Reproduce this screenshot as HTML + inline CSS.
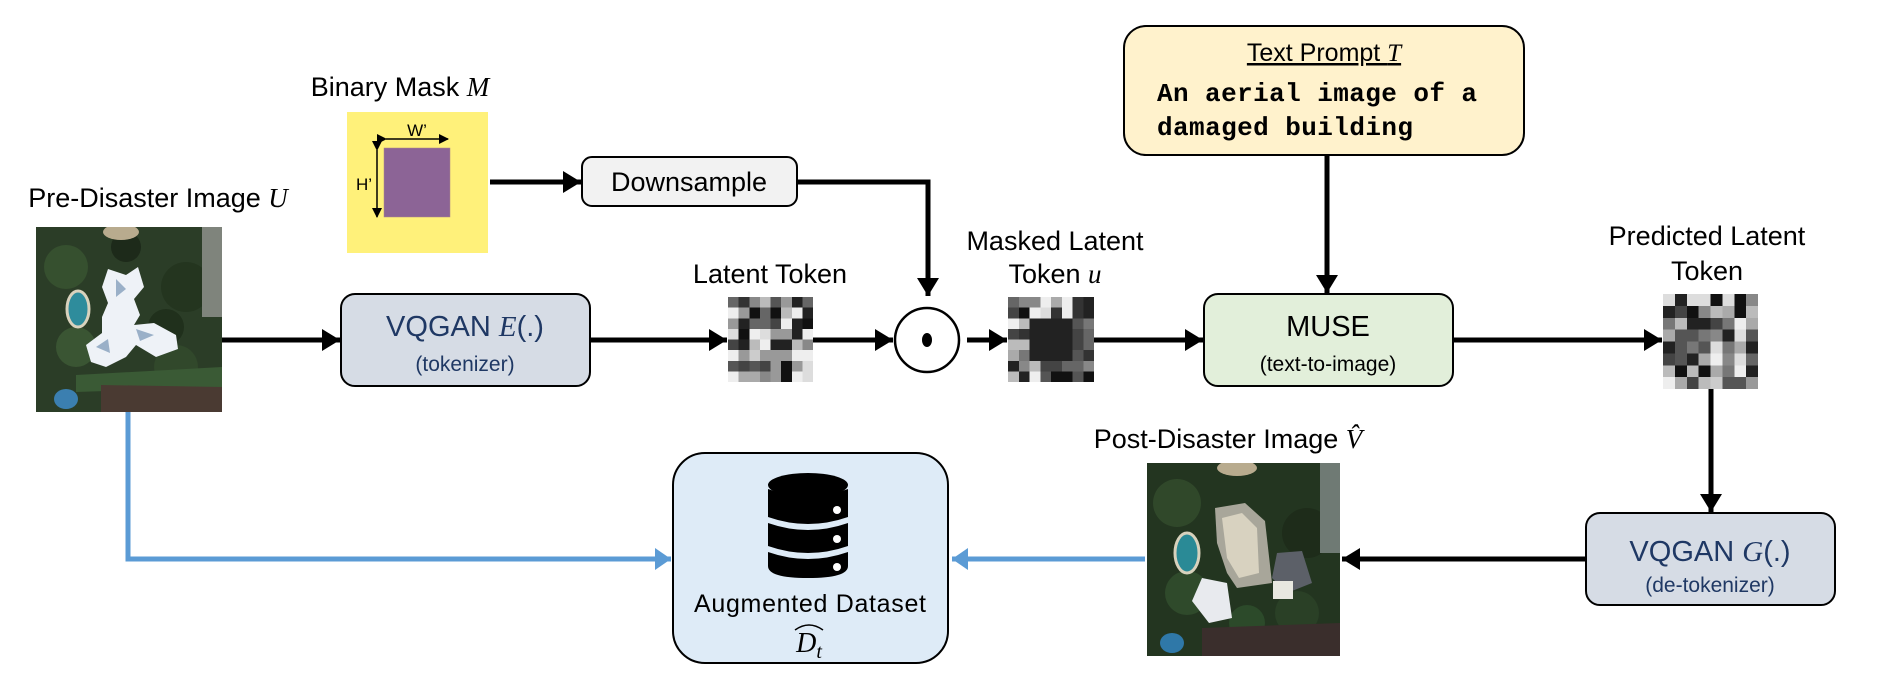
<!DOCTYPE html>
<html><head><meta charset="utf-8"><style>
html,body{margin:0;padding:0;background:#fff;}
svg{display:block;}
.lbl{font-family:"Liberation Sans Narrow","Liberation Sans",sans-serif;font-size:27px;fill:#000;}
.mi{font-family:"Liberation Serif",serif;font-style:italic;}
.box1{font-family:"Liberation Sans",sans-serif;fill:#1f3864;}
.mono{font-family:"Liberation Mono",monospace;font-weight:bold;font-size:26px;fill:#000;}
</style></head><body>
<svg width="1903" height="688" viewBox="0 0 1903 688" xmlns="http://www.w3.org/2000/svg">
<defs>
<marker id="ah" markerUnits="userSpaceOnUse" markerWidth="20" markerHeight="22" refX="18" refY="11" orient="auto"><path d="M0,0 L18,11 L0,22 Z" fill="#000"/></marker>
<marker id="bh" markerUnits="userSpaceOnUse" markerWidth="18" markerHeight="22" refX="16" refY="11" orient="auto"><path d="M0,0 L16,11 L0,22 Z" fill="#5b9bd5"/></marker>
<marker id="sh" markerUnits="userSpaceOnUse" markerWidth="10" markerHeight="10" refX="9" refY="5" orient="auto"><path d="M0,0 L10,5 L0,10 Z" fill="#000"/></marker>
</defs>

<!-- Binary mask -->
<text class="lbl" x="400" y="96" text-anchor="middle">Binary Mask <tspan class="mi">M</tspan></text>
<rect x="347" y="112" width="141" height="141" fill="#fff17a"/>
<rect x="384" y="148" width="66" height="69" fill="#8c6496" stroke="#a88" stroke-width="0.5"/>
<line x1="386" y1="139" x2="448" y2="139" stroke="#000" stroke-width="1.5" marker-start="url(#sh)" marker-end="url(#sh)"/>
<text x="417" y="136" text-anchor="middle" font-family="Liberation Sans,sans-serif" font-size="17">W’</text>
<line x1="377" y1="150" x2="377" y2="217" stroke="#000" stroke-width="1.5" marker-start="url(#sh)" marker-end="url(#sh)"/>
<text x="372" y="190" text-anchor="end" font-family="Liberation Sans,sans-serif" font-size="17">H’</text>

<!-- Downsample -->
<line x1="490" y1="182" x2="581" y2="182" stroke="#000" stroke-width="5" marker-end="url(#ah)"/>
<rect x="582" y="157" width="215" height="49" rx="10" fill="#f2f2f2" stroke="#000" stroke-width="2"/>
<text class="lbl" x="689" y="191" text-anchor="middle" font-family="Liberation Sans,sans-serif">Downsample</text>
<polyline points="797,182 928,182 928,296" fill="none" stroke="#000" stroke-width="5" marker-end="url(#ah)"/>

<!-- Pre-disaster -->
<text class="lbl" x="158" y="207" text-anchor="middle">Pre-Disaster Image <tspan class="mi">U</tspan></text>
<svg x="36" y="227" width="186" height="185" viewBox="0 0 186 185">
<rect width="186" height="185" fill="#2b3d27"/>
<circle cx="30" cy="40" r="22" fill="#36502f"/><circle cx="150" cy="60" r="25" fill="#24351f"/>
<circle cx="40" cy="120" r="20" fill="#3a5533"/><circle cx="140" cy="140" r="22" fill="#31482b"/>
<circle cx="90" cy="20" r="15" fill="#1d2a1a"/><circle cx="130" cy="100" r="18" fill="#20301c"/>
<rect x="166" y="0" width="20" height="90" fill="#7f847c"/>
<ellipse cx="85" cy="5" rx="18" ry="8" fill="#b8ab8e"/>
<path d="M40,148 L186,140 L186,160 L40,165 Z" fill="#3a5a35"/>
<path d="M65,158 L186,160 L186,185 L65,185 Z" fill="#4a3a32"/>
<ellipse cx="30" cy="172" rx="12" ry="10" fill="#3b7fb0"/>
<ellipse cx="42" cy="82" rx="11" ry="18" fill="#2e8c9c" stroke="#d8d2bd" stroke-width="3"/>
<path d="M72,42 L90,48 L102,40 L108,60 L98,72 L104,88 L98,98 L118,96 L140,108 L142,122 L120,130 L100,118 L90,130 L70,140 L55,135 L50,118 L66,106 L66,90 L72,76 L66,60 Z" fill="#eef2f7"/>
<path d="M80,52 L90,62 L80,70 Z M100,102 L118,108 L104,114 Z M60,120 L72,112 L74,126 Z" fill="#9ab0c8"/>
</svg>
<polyline points="128,412 128,559 671,559" fill="none" stroke="#5b9bd5" stroke-width="5" marker-end="url(#bh)"/>
<line x1="222" y1="340" x2="340" y2="340" stroke="#000" stroke-width="5" marker-end="url(#ah)"/>

<!-- VQGAN E -->
<rect x="341" y="294" width="249" height="92" rx="14" fill="#d6dce5" stroke="#000" stroke-width="2"/>
<text class="box1" x="465" y="336" text-anchor="middle" font-size="29">VQGAN <tspan class="mi">E</tspan>(.)</text>
<text class="box1" x="465" y="371" text-anchor="middle" font-size="21">(tokenizer)</text>
<line x1="590" y1="340" x2="727" y2="340" stroke="#000" stroke-width="5" marker-end="url(#ah)"/>

<!-- Latent token -->
<text class="lbl" x="770" y="283" text-anchor="middle">Latent Token</text>
<svg x="728" y="297" width="85" height="85" viewBox="0 0 8 8" preserveAspectRatio="none" shape-rendering="crispEdges">
<rect x="0" y="0" width="1" height="1" fill="#666"/><rect x="1" y="0" width="1" height="1" fill="#333"/><rect x="2" y="0" width="1" height="1" fill="#888"/><rect x="3" y="0" width="1" height="1" fill="#bbb"/><rect x="4" y="0" width="1" height="1" fill="#555"/><rect x="5" y="0" width="1" height="1" fill="#999"/><rect x="6" y="0" width="1" height="1" fill="#222"/><rect x="7" y="0" width="1" height="1" fill="#666"/>
<rect x="0" y="1" width="1" height="1" fill="#eee"/><rect x="1" y="1" width="1" height="1" fill="#999"/><rect x="2" y="1" width="1" height="1" fill="#111"/><rect x="3" y="1" width="1" height="1" fill="#666"/><rect x="4" y="1" width="1" height="1" fill="#111"/><rect x="5" y="1" width="1" height="1" fill="#bbb"/><rect x="6" y="1" width="1" height="1" fill="#eee"/><rect x="7" y="1" width="1" height="1" fill="#222"/>
<rect x="0" y="2" width="1" height="1" fill="#999"/><rect x="1" y="2" width="1" height="1" fill="#222"/><rect x="2" y="2" width="1" height="1" fill="#666"/><rect x="3" y="2" width="1" height="1" fill="#666"/><rect x="4" y="2" width="1" height="1" fill="#444"/><rect x="5" y="2" width="1" height="1" fill="#eee"/><rect x="6" y="2" width="1" height="1" fill="#222"/><rect x="7" y="2" width="1" height="1" fill="#111"/>
<rect x="0" y="3" width="1" height="1" fill="#ddd"/><rect x="1" y="3" width="1" height="1" fill="#111"/><rect x="2" y="3" width="1" height="1" fill="#eee"/><rect x="3" y="3" width="1" height="1" fill="#ddd"/><rect x="4" y="3" width="1" height="1" fill="#999"/><rect x="5" y="3" width="1" height="1" fill="#999"/><rect x="6" y="3" width="1" height="1" fill="#222"/><rect x="7" y="3" width="1" height="1" fill="#eee"/>
<rect x="0" y="4" width="1" height="1" fill="#444"/><rect x="1" y="4" width="1" height="1" fill="#222"/><rect x="2" y="4" width="1" height="1" fill="#bbb"/><rect x="3" y="4" width="1" height="1" fill="#eee"/><rect x="4" y="4" width="1" height="1" fill="#222"/><rect x="5" y="4" width="1" height="1" fill="#222"/><rect x="6" y="4" width="1" height="1" fill="#bbb"/><rect x="7" y="4" width="1" height="1" fill="#888"/>
<rect x="0" y="5" width="1" height="1" fill="#eee"/><rect x="1" y="5" width="1" height="1" fill="#999"/><rect x="2" y="5" width="1" height="1" fill="#ccc"/><rect x="3" y="5" width="1" height="1" fill="#999"/><rect x="4" y="5" width="1" height="1" fill="#999"/><rect x="5" y="5" width="1" height="1" fill="#999"/><rect x="6" y="5" width="1" height="1" fill="#eee"/><rect x="7" y="5" width="1" height="1" fill="#eee"/>
<rect x="0" y="6" width="1" height="1" fill="#555"/><rect x="1" y="6" width="1" height="1" fill="#444"/><rect x="2" y="6" width="1" height="1" fill="#555"/><rect x="3" y="6" width="1" height="1" fill="#444"/><rect x="4" y="6" width="1" height="1" fill="#999"/><rect x="5" y="6" width="1" height="1" fill="#111"/><rect x="6" y="6" width="1" height="1" fill="#999"/><rect x="7" y="6" width="1" height="1" fill="#ddd"/>
<rect x="0" y="7" width="1" height="1" fill="#eee"/><rect x="1" y="7" width="1" height="1" fill="#aaa"/><rect x="2" y="7" width="1" height="1" fill="#aaa"/><rect x="3" y="7" width="1" height="1" fill="#888"/><rect x="4" y="7" width="1" height="1" fill="#999"/><rect x="5" y="7" width="1" height="1" fill="#111"/><rect x="6" y="7" width="1" height="1" fill="#eee"/><rect x="7" y="7" width="1" height="1" fill="#ddd"/>
</svg>
<line x1="813" y1="340" x2="893" y2="340" stroke="#000" stroke-width="5" marker-end="url(#ah)"/>
<circle cx="927" cy="340" r="32" fill="#fff" stroke="#000" stroke-width="2.5"/>
<ellipse cx="927" cy="340" rx="5" ry="7" fill="#000"/>
<line x1="967" y1="340" x2="1007" y2="340" stroke="#000" stroke-width="5" marker-end="url(#ah)"/>

<!-- Masked token -->
<text class="lbl" x="1055" y="250" text-anchor="middle">Masked Latent</text>
<text class="lbl" x="1055" y="283" text-anchor="middle">Token <tspan class="mi">u</tspan></text>
<svg x="1008" y="297" width="86" height="85" viewBox="0 0 8 8" preserveAspectRatio="none" shape-rendering="crispEdges">
<rect x="0" y="0" width="8" height="8" fill="#222"/>
<rect x="0" y="0" width="1" height="1" fill="#666"/><rect x="1" y="0" width="1" height="1" fill="#888"/><rect x="2" y="0" width="1" height="1" fill="#888"/><rect x="3" y="0" width="1" height="1" fill="#eee"/><rect x="4" y="0" width="1" height="1" fill="#aaa"/><rect x="5" y="0" width="1" height="1" fill="#eee"/><rect x="6" y="0" width="1" height="1" fill="#333"/>
<rect x="0" y="1" width="1" height="1" fill="#444"/><rect x="1" y="1" width="1" height="1" fill="#111"/><rect x="2" y="1" width="1" height="1" fill="#eee"/><rect x="3" y="1" width="1" height="1" fill="#ddd"/><rect x="4" y="1" width="1" height="1" fill="#333"/><rect x="5" y="1" width="1" height="1" fill="#eee"/><rect x="6" y="1" width="1" height="1" fill="#333"/>
<rect x="0" y="2" width="1" height="1" fill="#eee"/><rect x="1" y="2" width="1" height="1" fill="#bbb"/><rect x="6" y="2" width="1" height="1" fill="#555"/><rect x="7" y="2" width="1" height="1" fill="#777"/>
<rect x="0" y="3" width="1" height="1" fill="#444"/><rect x="1" y="3" width="1" height="1" fill="#333"/><rect x="6" y="3" width="1" height="1" fill="#444"/><rect x="7" y="3" width="1" height="1" fill="#666"/>
<rect x="0" y="4" width="1" height="1" fill="#bbb"/><rect x="1" y="4" width="1" height="1" fill="#bbb"/><rect x="6" y="4" width="1" height="1" fill="#444"/><rect x="7" y="4" width="1" height="1" fill="#666"/>
<rect x="0" y="5" width="1" height="1" fill="#aaa"/><rect x="1" y="5" width="1" height="1" fill="#777"/><rect x="6" y="5" width="1" height="1" fill="#555"/><rect x="7" y="5" width="1" height="1" fill="#333"/>
<rect x="1" y="6" width="1" height="1" fill="#888"/><rect x="2" y="6" width="1" height="1" fill="#bbb"/><rect x="3" y="6" width="1" height="1" fill="#444"/><rect x="4" y="6" width="1" height="1" fill="#444"/><rect x="5" y="6" width="1" height="1" fill="#666"/><rect x="6" y="6" width="1" height="1" fill="#666"/><rect x="7" y="6" width="1" height="1" fill="#888"/>
<rect x="0" y="7" width="1" height="1" fill="#bbb"/><rect x="2" y="7" width="1" height="1" fill="#eee"/><rect x="3" y="7" width="1" height="1" fill="#555"/><rect x="4" y="7" width="1" height="1" fill="#111"/><rect x="5" y="7" width="1" height="1" fill="#111"/><rect x="6" y="7" width="1" height="1" fill="#555"/><rect x="7" y="7" width="1" height="1" fill="#111"/>
</svg>
<line x1="1094" y1="340" x2="1203" y2="340" stroke="#000" stroke-width="5" marker-end="url(#ah)"/>

<!-- Text prompt -->
<rect x="1124" y="26" width="400" height="129" rx="22" fill="#fff2cc" stroke="#000" stroke-width="2"/>
<text x="1324" y="61" text-anchor="middle" font-family="Liberation Sans Narrow,Liberation Sans,sans-serif" font-size="25" text-decoration="underline">Text Prompt <tspan class="mi">T</tspan></text>
<text class="mono" x="1157" y="101" textLength="320">An aerial image of a</text>
<text class="mono" x="1157" y="135" textLength="256">damaged building</text>
<line x1="1327" y1="155" x2="1327" y2="293" stroke="#000" stroke-width="5" marker-end="url(#ah)"/>

<!-- MUSE -->
<rect x="1204" y="294" width="249" height="92" rx="14" fill="#e2efda" stroke="#000" stroke-width="2"/>
<text x="1328" y="336" text-anchor="middle" font-family="Liberation Sans,sans-serif" font-size="29">MUSE</text>
<text x="1328" y="371" text-anchor="middle" font-family="Liberation Sans,sans-serif" font-size="21">(text-to-image)</text>
<line x1="1453" y1="340" x2="1662" y2="340" stroke="#000" stroke-width="5" marker-end="url(#ah)"/>

<!-- Predicted -->
<text class="lbl" x="1707" y="245" text-anchor="middle">Predicted Latent</text>
<text class="lbl" x="1707" y="280" text-anchor="middle">Token</text>
<svg x="1663" y="294" width="95" height="95" viewBox="0 0 8 8" preserveAspectRatio="none" shape-rendering="crispEdges">
<rect x="0" y="0" width="1" height="1" fill="#ddd"/><rect x="1" y="0" width="1" height="1" fill="#222"/><rect x="2" y="0" width="1" height="1" fill="#ddd"/><rect x="3" y="0" width="1" height="1" fill="#ddd"/><rect x="4" y="0" width="1" height="1" fill="#111"/><rect x="5" y="0" width="1" height="1" fill="#ddd"/><rect x="6" y="0" width="1" height="1" fill="#111"/><rect x="7" y="0" width="1" height="1" fill="#888"/>
<rect x="0" y="1" width="1" height="1" fill="#222"/><rect x="1" y="1" width="1" height="1" fill="#444"/><rect x="2" y="1" width="1" height="1" fill="#111"/><rect x="3" y="1" width="1" height="1" fill="#888"/><rect x="4" y="1" width="1" height="1" fill="#bbb"/><rect x="5" y="1" width="1" height="1" fill="#aaa"/><rect x="6" y="1" width="1" height="1" fill="#111"/><rect x="7" y="1" width="1" height="1" fill="#bbb"/>
<rect x="0" y="2" width="1" height="1" fill="#777"/><rect x="1" y="2" width="1" height="1" fill="#bbb"/><rect x="2" y="2" width="1" height="1" fill="#222"/><rect x="3" y="2" width="1" height="1" fill="#222"/><rect x="4" y="2" width="1" height="1" fill="#444"/><rect x="5" y="2" width="1" height="1" fill="#777"/><rect x="6" y="2" width="1" height="1" fill="#eee"/><rect x="7" y="2" width="1" height="1" fill="#aaa"/>
<rect x="0" y="3" width="1" height="1" fill="#aaa"/><rect x="1" y="3" width="1" height="1" fill="#555"/><rect x="2" y="3" width="1" height="1" fill="#555"/><rect x="3" y="3" width="1" height="1" fill="#777"/><rect x="4" y="3" width="1" height="1" fill="#888"/><rect x="5" y="3" width="1" height="1" fill="#222"/><rect x="6" y="3" width="1" height="1" fill="#ddd"/><rect x="7" y="3" width="1" height="1" fill="#555"/>
<rect x="0" y="4" width="1" height="1" fill="#222"/><rect x="1" y="4" width="1" height="1" fill="#555"/><rect x="2" y="4" width="1" height="1" fill="#777"/><rect x="3" y="4" width="1" height="1" fill="#555"/><rect x="4" y="4" width="1" height="1" fill="#ddd"/><rect x="5" y="4" width="1" height="1" fill="#777"/><rect x="6" y="4" width="1" height="1" fill="#aaa"/><rect x="7" y="4" width="1" height="1" fill="#222"/>
<rect x="0" y="5" width="1" height="1" fill="#444"/><rect x="1" y="5" width="1" height="1" fill="#555"/><rect x="2" y="5" width="1" height="1" fill="#222"/><rect x="3" y="5" width="1" height="1" fill="#aaa"/><rect x="4" y="5" width="1" height="1" fill="#eee"/><rect x="5" y="5" width="1" height="1" fill="#888"/><rect x="6" y="5" width="1" height="1" fill="#ddd"/><rect x="7" y="5" width="1" height="1" fill="#666"/>
<rect x="0" y="6" width="1" height="1" fill="#bbb"/><rect x="1" y="6" width="1" height="1" fill="#111"/><rect x="2" y="6" width="1" height="1" fill="#bbb"/><rect x="3" y="6" width="1" height="1" fill="#111"/><rect x="4" y="6" width="1" height="1" fill="#aaa"/><rect x="5" y="6" width="1" height="1" fill="#777"/><rect x="6" y="6" width="1" height="1" fill="#eee"/><rect x="7" y="6" width="1" height="1" fill="#222"/>
<rect x="0" y="7" width="1" height="1" fill="#eee"/><rect x="1" y="7" width="1" height="1" fill="#aaa"/><rect x="2" y="7" width="1" height="1" fill="#444"/><rect x="3" y="7" width="1" height="1" fill="#bbb"/><rect x="4" y="7" width="1" height="1" fill="#ccc"/><rect x="5" y="7" width="1" height="1" fill="#555"/><rect x="6" y="7" width="1" height="1" fill="#555"/><rect x="7" y="7" width="1" height="1" fill="#999"/>
</svg>
<line x1="1711" y1="389" x2="1711" y2="512" stroke="#000" stroke-width="5" marker-end="url(#ah)"/>

<!-- VQGAN G -->
<rect x="1586" y="513" width="249" height="92" rx="14" fill="#d6dce5" stroke="#000" stroke-width="2"/>
<text class="box1" x="1710" y="561" text-anchor="middle" font-size="29">VQGAN <tspan class="mi">G</tspan>(.)</text>
<text class="box1" x="1710" y="592" text-anchor="middle" font-size="21">(de-tokenizer)</text>
<line x1="1586" y1="559" x2="1342" y2="559" stroke="#000" stroke-width="5" marker-end="url(#ah)"/>

<!-- Post-disaster -->
<text class="lbl" x="1228" y="448" text-anchor="middle">Post-Disaster Image <tspan class="mi">V̂</tspan></text>
<svg x="1147" y="463" width="193" height="193" viewBox="0 0 193 193">
<rect width="193" height="193" fill="#233520"/>
<circle cx="30" cy="40" r="24" fill="#30482a"/><circle cx="160" cy="70" r="25" fill="#1e2c1a"/>
<circle cx="40" cy="130" r="22" fill="#2f4a2b"/><circle cx="150" cy="150" r="22" fill="#2a4026"/>
<circle cx="100" cy="160" r="18" fill="#2c4a2a"/>
<rect x="173" y="0" width="20" height="90" fill="#6f7a74"/>
<ellipse cx="90" cy="5" rx="20" ry="8" fill="#b8ab8e"/>
<path d="M55,165 L193,160 L193,193 L55,193 Z" fill="#3a2e2c"/>
<ellipse cx="25" cy="180" rx="12" ry="10" fill="#2f78a8"/>
<ellipse cx="40" cy="90" rx="12" ry="20" fill="#2a8a96" stroke="#d8d2bd" stroke-width="3"/>
<path d="M68,45 L98,40 L118,58 L125,120 L90,125 L80,110 L70,80 Z" fill="#a8a69a"/>
<path d="M75,55 L95,50 L110,65 L112,110 L92,115 L80,95 Z" fill="#d8d2c0"/>
<path d="M55,115 L80,120 L85,155 L62,160 L45,138 Z" fill="#e8eaee"/>
<path d="M130,90 L155,88 L165,120 L140,130 L125,115 Z" fill="#5c6068"/>
<rect x="126" y="118" width="20" height="18" fill="#e8e8e0"/>
</svg>
<line x1="1145" y1="559" x2="952" y2="559" stroke="#5b9bd5" stroke-width="5" marker-end="url(#bh)"/>

<!-- Augmented dataset -->
<rect x="673" y="453" width="275" height="210" rx="32" fill="#deebf7" stroke="#000" stroke-width="2"/>
<g fill="#000">
<ellipse cx="808" cy="485" rx="40" ry="12"/>
<path d="M768,489 Q808,504 848,489 L848,517 Q808,531 768,517 Z"/>
<path d="M768,523 Q808,537 848,523 L848,546 Q808,560 768,546 Z"/>
<path d="M768,552 Q808,566 848,552 L848,566 Q848,578 808,578 Q768,578 768,566 Z"/>
</g>
<g fill="#fff"><circle cx="837" cy="510" r="4"/><circle cx="837" cy="539" r="4"/><circle cx="837" cy="567" r="4"/></g>
<text x="810" y="612" text-anchor="middle" font-family="Liberation Sans,sans-serif" font-size="25" textLength="232">Augmented Dataset</text>
<path d="M795,630 Q809,620 823,630" fill="none" stroke="#000" stroke-width="1.5"/>
<text x="809" y="652" text-anchor="middle" class="mi" font-size="28">D<tspan font-size="20" dy="6">t</tspan></text>
</svg>
</body></html>
